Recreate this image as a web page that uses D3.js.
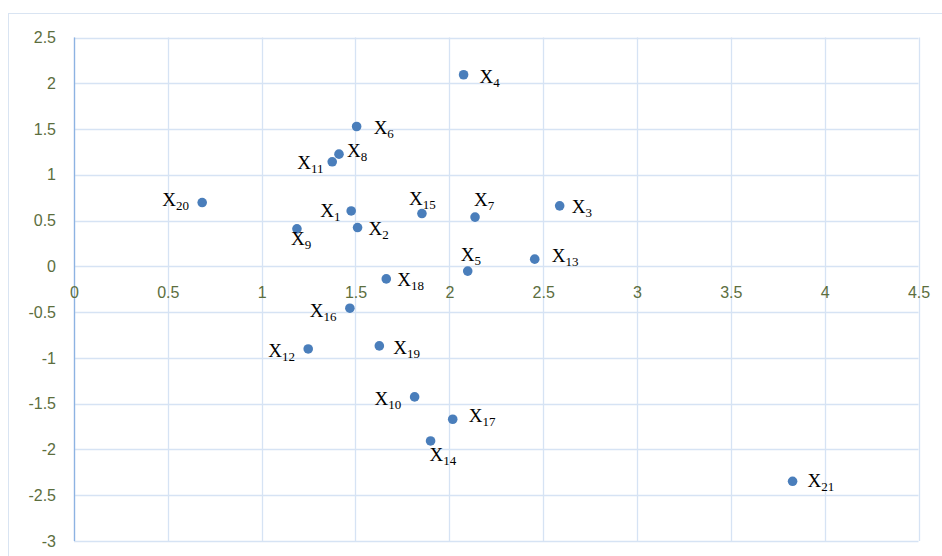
<!DOCTYPE html>
<html>
<head>
<meta charset="utf-8">
<script src="https://cdn.jsdelivr.net/npm/d3@7"></script>
<style>
  html, body { margin: 0; padding: 0; background: #fff; }
  svg { display: block; }
</style>
</head>
<body>
<svg id="chart" width="942" height="556"></svg>
<script>
// ---- data ----
const pointIds = [1, 2, 3, 4, 5, 6, 7, 8, 9, 10, 11, 12, 13, 14, 15, 16, 17, 18, 19, 20, 21];
const xValues = [1.477, 1.511, 2.588, 2.076, 2.098, 1.506, 2.137, 1.412, 1.188, 1.815, 1.376,
                 1.248, 2.455, 1.900, 1.854, 1.470, 2.018, 1.664, 1.627, 0.683, 3.829];
const yValues = [0.605, 0.424, 0.661, 2.093, -0.052, 1.528, 0.538, 1.226, 0.410, -1.426, 1.142,
                 -0.902, 0.079, -1.907, 0.577, -0.457, -1.670, -0.137, -0.869, 0.697, -2.348];
const xTicks = [0, 0.5, 1, 1.5, 2, 2.5, 3, 3.5, 4, 4.5];
const yTicks = [2.5, 2, 1.5, 1, 0.5, 0, -0.5, -1, -1.5, -2, -2.5, -3];

// ---- layout (label offsets from each dot, px: [dx, dy]) ----
const labelOffsets = [
  [-31, 6], [11, 7], [12, 7], [16, 8], [-7, -10], [17, 8], [-1, -11], [8, 3], [-6, 16], [-40, 8],
  [-35, 7], [-40, 8], [17, 3], [-1, 20], [-13, -9], [-40, 9], [16, 3], [11, 7], [14, 8], [-40, 3], [15, 6]
];

const svg = d3.select("#chart");
const plotLeft = 74, plotRight = 918.5, plotTop = 37.5, plotBottom = 541;

const x = d3.scaleLinear().domain([0, 4.5]).range([plotLeft, plotRight]);
const y = d3.scaleLinear().domain([-3, 2.5]).range([plotBottom, plotTop]);

// outer chart frame
svg.append("rect")
  .attr("x", 8.5).attr("y", 13.5).attr("width", 1000).attr("height", 1000)
  .attr("fill", "none").attr("stroke", "#d9e4f2").attr("stroke-width", 1);

const grid = "#d6e3f4";
// vertical gridlines
svg.append("g").selectAll("line").data(xTicks).join("line")
  .attr("x1", d => Math.round(x(d)) + 0.5).attr("x2", d => Math.round(x(d)) + 0.5)
  .attr("y1", plotTop).attr("y2", plotBottom)
  .attr("stroke", grid).attr("stroke-width", 1.3);
// horizontal gridlines
svg.append("g").selectAll("line").data(yTicks).join("line")
  .attr("x1", plotLeft).attr("x2", plotRight)
  .attr("y1", d => Math.round(y(d)) + 0.5).attr("y2", d => Math.round(y(d)) + 0.5)
  .attr("stroke", grid).attr("stroke-width", 1.3);

// y axis line at x=0
svg.append("line")
  .attr("x1", Math.round(x(0)) + 0.5).attr("x2", Math.round(x(0)) + 0.5)
  .attr("y1", plotTop).attr("y2", plotBottom)
  .attr("stroke", "#8db3e2").attr("stroke-width", 1.3);

const tickColor = "#5c6e3e";
const tickFont = "'Liberation Sans', Arial, sans-serif";

// y axis labels
const yAxis = d3.axisLeft(y).tickValues(yTicks).tickSize(0).tickPadding(18)
  .tickFormat(d => String(d));
const yg = svg.append("g").attr("transform", `translate(${plotLeft},0)`).call(yAxis);
yg.select(".domain").remove();
yg.selectAll("text").attr("fill", tickColor).attr("font-size", 16).attr("font-family", tickFont);

// x axis labels (positioned below the y=0 line)
const xAxis = d3.axisBottom(x).tickValues(xTicks).tickSize(0).tickPadding(20)
  .tickFormat(d => String(d));
const xg = svg.append("g").attr("transform", `translate(0,${y(0)})`).call(xAxis);
xg.select(".domain").remove();
xg.selectAll("text").attr("fill", tickColor).attr("font-size", 16).attr("font-family", tickFont);

// points
const pts = pointIds.map((id, i) => ({ id, x: xValues[i], y: yValues[i], off: labelOffsets[i] }));
svg.append("g").selectAll("circle").data(pts).join("circle")
  .attr("cx", d => x(d.x)).attr("cy", d => y(d.y)).attr("r", 4.8)
  .attr("fill", "#4a7ebb");

// labels
const lab = svg.append("g").selectAll("text").data(pts).join("text")
  .attr("x", d => x(d.x) + d.off[0]).attr("y", d => y(d.y) + d.off[1])
  .attr("font-family", "'Liberation Serif', 'Times New Roman', serif")
  .attr("font-size", 19).attr("fill", "#000");
lab.append("tspan").text("X");
lab.append("tspan").attr("font-size", 13).attr("dy", 4).text(d => d.id);
</script>
</body>
</html>
